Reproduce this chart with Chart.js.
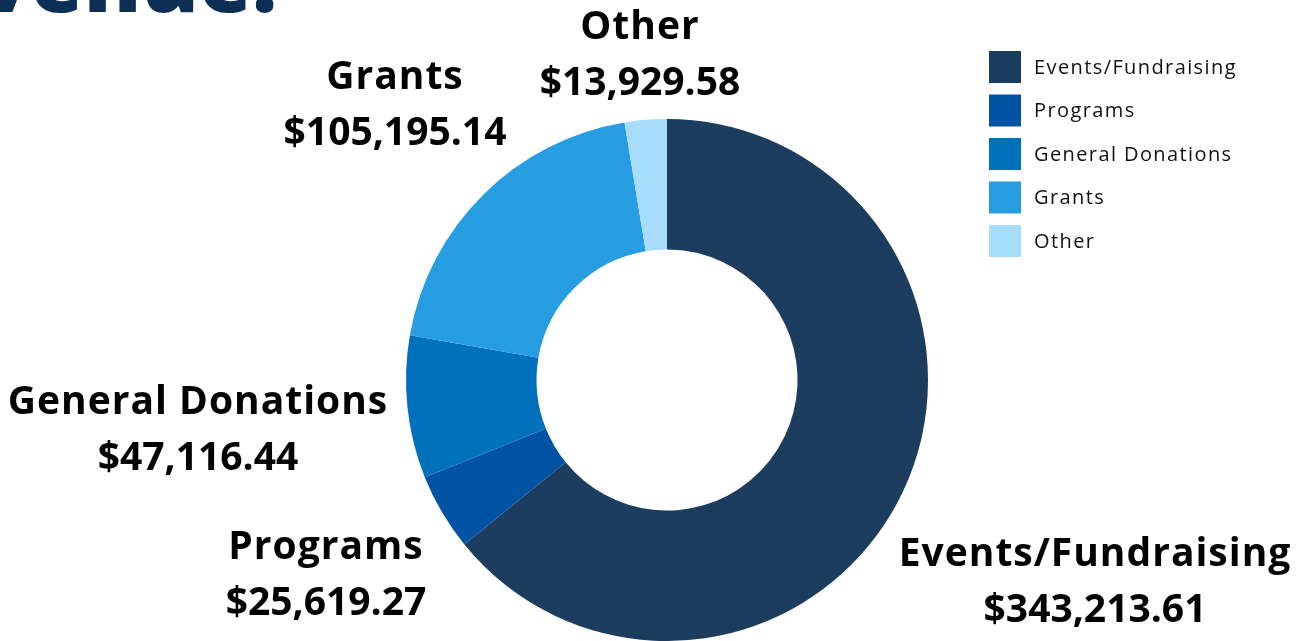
<!DOCTYPE html>
<html>
<head>
<meta charset="utf-8">
<script src="https://cdn.jsdelivr.net/npm/chart.js@4/dist/chart.umd.min.js"></script>
<style>
  html, body { margin: 0; padding: 0; background: #ffffff; }
  #wrap { position: relative; width: 1296px; height: 641px; overflow: hidden; }
</style>
</head>
<body>
<div id="wrap"><canvas id="c"></canvas></div>
<script>
// ---- data ----
const categories = ['Events/Fundraising', 'Programs', 'General Donations', 'Grants', 'Other'];
const amounts = [343213.61, 25619.27, 47116.44, 105195.14, 13929.58];
const sliceColors = ['#1d3d5f', '#0353a4', '#0072bb', '#279de1', '#a7dcfb'];
const titleText = 'Revenue:';

// ---- layout (offsets of each outer label from the doughnut centre) ----
const labelOffsets = [[428, 175], [-341, 168], [-469, 23], [-272, -302], [-27, -352]];
const labelLineGap = 56;

const fmt = v => '$' + v.toLocaleString('en-US', { minimumFractionDigits: 2, maximumFractionDigits: 2 });

const decorPlugin = {
  id: 'decor',
  afterDraw(chart) {
    const ctx = chart.ctx;
    const meta = chart.getDatasetMeta(0);
    const arc0 = meta.data[0];
    const cx = arc0.x, cy = arc0.y;
    ctx.save();
    // clipped title at the top-left
    ctx.fillStyle = '#0d2e55';
    ctx.font = '800 86px "Open Sans"';
    ctx.letterSpacing = '0px';
    ctx.textAlign = 'right';
    ctx.textBaseline = 'alphabetic';
    ctx.fillText(titleText, 277, 12);

    // outer labels
    ctx.fillStyle = '#000000';
    ctx.textAlign = 'center';
    ctx.textBaseline = 'middle';
    ctx.font = 'bold 39px "Open Sans"';
    chart.data.labels.forEach((lab, i) => {
      const [dx, dy] = labelOffsets[i];
      ctx.letterSpacing = '1px';
      ctx.fillText(lab, cx + dx, cy + dy);
      ctx.letterSpacing = '0px';
      ctx.fillText(fmt(chart.data.datasets[0].data[i]), cx + dx, cy + dy + labelLineGap);
    });

    // legend
    const lx = 989, ly = 51, box = 32, gap = 43.5;
    ctx.textAlign = 'left';
    ctx.font = '500 20px "Open Sans"';
    ctx.letterSpacing = '1.4px';
    chart.data.labels.forEach((lab, i) => {
      const y = ly + i * gap;
      ctx.fillStyle = chart.data.datasets[0].backgroundColor[i];
      ctx.fillRect(lx, y, box, box);
      ctx.fillStyle = '#111111';
      ctx.fillText(lab, lx + 45, y + box / 2 + 1);
    });
    ctx.restore();
  }
};

new Chart(document.getElementById('c'), {
  type: 'doughnut',
  data: {
    labels: categories,
    datasets: [{
      data: amounts,
      backgroundColor: sliceColors,
      borderWidth: 0
    }]
  },
  options: {
    responsive: true,
    maintainAspectRatio: false,
    animation: false,
    cutout: '50%',
    layout: { padding: { left: 406, right: 368, top: 119, bottom: 0 } },
    plugins: {
      legend: { display: false },
      tooltip: { enabled: false }
    }
  },
  plugins: [decorPlugin]
});
</script>
</body>
</html>
